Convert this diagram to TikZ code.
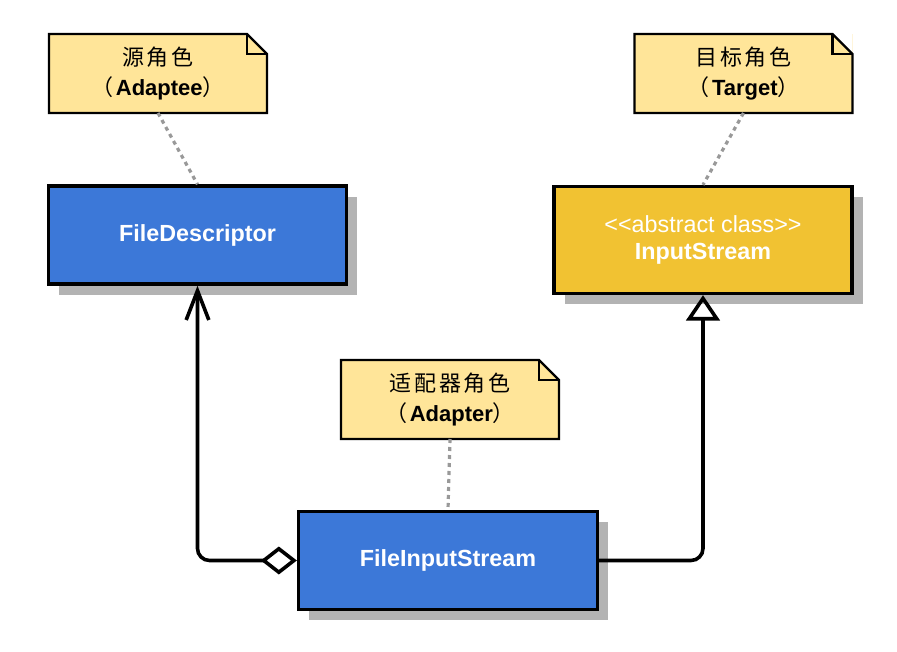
\documentclass[tikz,border=0pt]{standalone}
\usepackage{fontspec}
\setmainfont{Liberation Sans}
\newfontfamily\stereo{Liberation Sans}
\newfontfamily\cjk[LetterSpace=12]{Noto Sans CJK SC}
\usetikzlibrary{arrows.meta,shadows}
\definecolor{clsblue}{RGB}{60,120,216}
\definecolor{clsgold}{RGB}{241,194,50}
\definecolor{notefill}{RGB}{255,229,153}
\definecolor{linkgray}{RGB}{153,153,153}
\definecolor{shadowgray}{RGB}{179,179,179}
\tikzstyle{cls} = [rectangle, minimum width=223.5pt, minimum height=73.5pt, align=center, draw=black, line width=2.5pt, fill=clsblue, text=white, font=\fontsize{17.5}{20}\selectfont\bfseries, drop shadow={shadow xshift=8pt, shadow yshift=-8pt, fill=shadowgray, opacity=1}]
\tikzstyle{note} = [rectangle, minimum width=163.5pt, minimum height=59.25pt, outer sep=0pt, fill=notefill, align=center, font=\fontsize{16.5}{22.5}\selectfont]
\tikzstyle{anchorlink} = [linkgray, line width=2.4pt, dash pattern=on 3pt off 3pt]
\tikzstyle{conn} = [black, line width=2.7pt, rounded corners=9pt]
\newcommand{\notefold}[1]{
 \fill[white] ([xshift=-15pt]#1.north east) -- (#1.north east) -- ([yshift=-15pt]#1.north east) -- cycle;
 \draw[line width=1.8pt] (#1.south west) -- (#1.north west) -- ([xshift=-15pt]#1.north east) -- ([yshift=-15pt]#1.north east) -- (#1.south east) -- cycle;
 \draw[line width=1.8pt] ([xshift=-15pt]#1.north east) |- ([yshift=-15pt]#1.north east);
}

\begin{document}
\begin{tikzpicture}[x=0.75pt, y=-0.75pt]
\useasboundingbox (0,0) rectangle (897,651);

\node (fd) [cls] at (197.5,235) {FileDescriptor};
\node (is) [cls, fill=clsgold, minimum height=80.25pt] at (703,240) {{\stereo\mdseries <<abstract class>>}\\InputStream};
\node (fis) [cls, minimum width=224.25pt] at (448,560.5) {FileInputStream};

\node (srcnote) [note] at (158,73.5) {{\cjk 源角色}\\{\cjk （}\textbf{Adaptee}{\cjk ）}};
\notefold{srcnote}
\node (tgtnote) [note] at (743.5,73.5) {{\cjk 目标角色}\\{\cjk （}\textbf{Target}{\cjk ）}};
\notefold{tgtnote}
\node (adpnote) [note] at (450,399.5) {{\cjk 适配器角色}\\{\cjk （}\textbf{Adapter}{\cjk ）}};
\notefold{adpnote}

\draw[anchorlink] (srcnote.south) -- (fd.north);
\draw[anchorlink] (tgtnote.south) -- (is.north);
\draw[anchorlink] (adpnote.south) -- (fis.north);

\draw[conn, {Diamond[open, length=27pt, width=21pt]}-{Straight Barb[length=22pt, width=17pt]}] (fis.west) -| (fd.south);
\draw[conn, -{Triangle[open, length=19pt, width=25pt]}] (fis.east) -| (is.south);
\end{tikzpicture}
\end{document}
